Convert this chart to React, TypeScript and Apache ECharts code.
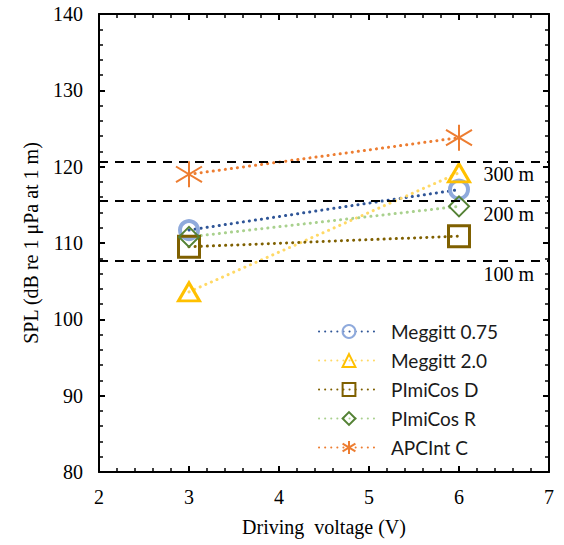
import React, { useEffect, useRef } from "react";
import * as echarts from "echarts";

const voltages = [3, 6];
const meggitt075 = [111.7, 117.0];
const meggitt20 = [103.6, 119.2];
const pimicosD = [109.5, 110.9];
const pimicosR = [110.8, 114.8];
const apcintC = [119.0, 123.8];
const rangeLevels = [120.7, 115.5, 107.7];
const rangeLabels = ["300 m", "200 m", "100 m"];
const seriesNames = ["Meggitt 0.75", "Meggitt 2.0", "PImiCos D", "PImiCos R", "APCInt C"];

const SERIF = "'Liberation Serif', 'Times New Roman', serif";
const SANS = "Lato, 'Liberation Sans', sans-serif";
const DOT: number[] = [0.1, 6];
const ASTER = "path://M10,0 L10,20 M2,4 L18,16 M2,16 L18,4";

function pairs(vals: number[]) {
  return voltages.map((v, i) => [v, vals[i]]);
}

function mkSeries(name: string, vals: number[], lineColor: string, symbol: string, size: any, border: string, bw: number) {
  return {
    name,
    type: "line",
    data: pairs(vals),
    xAxisIndex: 0,
    yAxisIndex: 0,
    symbol,
    symbolSize: size,
    z: 3,
    lineStyle: { color: lineColor, width: 3, type: DOT, cap: "round" },
    itemStyle: { color: "rgba(255,255,255,0)", borderColor: border, borderWidth: bw },
    emphasis: { disabled: true },
  };
}

export default function App() {
  const ref = useRef<HTMLDivElement>(null);
  useEffect(() => {
    if (!ref.current) return;
    const chart = echarts.init(ref.current, null, { renderer: "svg" });
    const axisCommon = {
      axisLine: { show: true, onZero: false, lineStyle: { color: "#000", width: 2 } },
      axisTick: { show: true, inside: true, length: 6, lineStyle: { color: "#000", width: 2 } },
      minorTick: { show: true, splitNumber: 5, length: 4, lineStyle: { color: "#000", width: 1.5 } },
      splitLine: { show: false },
    };
    chart.setOption({
      animation: false,
      grid: { left: 99, right: 15, top: 14, bottom: 73 },
      xAxis: [
        {
          type: "value", min: 2, max: 7, interval: 1, position: "bottom",
          ...axisCommon,
          axisLabel: { margin: 15, fontFamily: SERIF, fontSize: 20, color: "#000" },
          name: "Driving  voltage (V)", nameLocation: "middle", nameGap: 45,
          nameTextStyle: { fontFamily: SERIF, fontSize: 20, color: "#000" },
        },
        {
          type: "value", min: 2, max: 7, interval: 1, position: "top",
          ...axisCommon,
          axisLabel: { show: false },
        },
      ],
      yAxis: [
        {
          type: "value", min: 80, max: 140, interval: 10, position: "left",
          ...axisCommon,
          axisLabel: { margin: 16, fontFamily: SERIF, fontSize: 20, color: "#000" },
          name: "SPL (dB re 1 μPa at 1 m)", nameLocation: "middle", nameGap: 58,
          nameTextStyle: { fontFamily: SERIF, fontSize: 20, color: "#000" },
        },
        {
          type: "value", min: 80, max: 140, interval: 10, position: "right",
          ...axisCommon,
          axisLabel: { show: false },
        },
      ],
      legend: {
        orient: "vertical",
        left: 313,
        top: 317,
        itemWidth: 60,
        itemHeight: 16,
        itemGap: 10,
        data: seriesNames,
        textStyle: { fontFamily: SANS, fontSize: 19, color: "#1a1a1a", padding: [0, 0, 0, 7] },
      },
      series: [
        {
          name: "ranges",
          type: "line",
          data: [],
          xAxisIndex: 0,
          yAxisIndex: 0,
          markLine: {
            silent: true,
            symbol: "none",
            lineStyle: { color: "#000", width: 2, type: [9, 7] },
            label: {
              position: "insideEndBottom",
              distance: [15, 3],
              fontFamily: SERIF,
              fontSize: 20,
              color: "#000",
            },
            data: rangeLevels.map((v, i) => ({ yAxis: v, label: { formatter: rangeLabels[i] } })),
          },
        },
        mkSeries(seriesNames[0], meggitt075, "#2F5597", "circle", 18, "#8FAADC", 4),
        mkSeries(seriesNames[1], meggitt20, "#FFD966", "triangle", [21, 18], "#FFC000", 3),
        mkSeries(seriesNames[2], pimicosD, "#7F6000", "rect", 21, "#7F6000", 3),
        mkSeries(seriesNames[3], pimicosR, "#A9D18E", "diamond", 20, "#548235", 2),
        mkSeries(seriesNames[4], apcintC, "#ED7D31", ASTER, 26, "#ED7D31", 2),
      ],
    });
    return () => chart.dispose();
  }, []);
  return (
    <div
      ref={ref}
      style={{ position: "fixed", left: 0, top: 0, width: 564, height: 545, background: "#fff" }}
    />
  );
}
